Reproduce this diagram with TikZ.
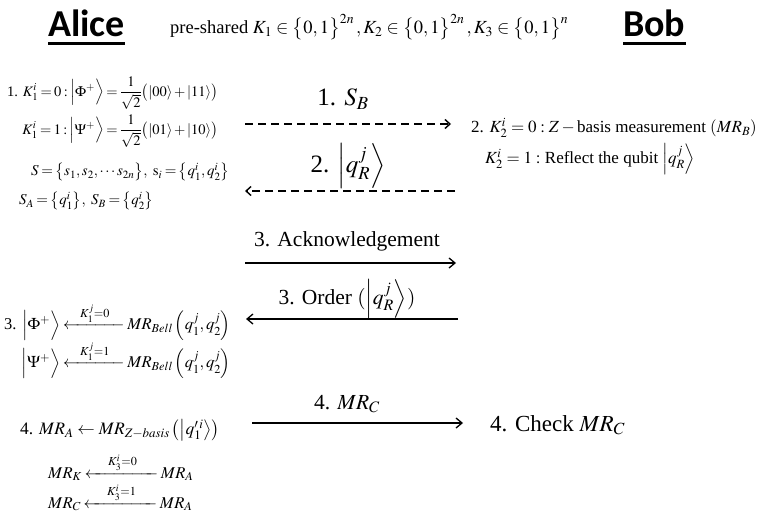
\documentclass[tikz,border=0pt]{standalone}
\usepackage{amsmath,amssymb}
\usepackage{mathptmx}
\usepackage[no-math]{fontspec}
\setmainfont{Liberation Serif}
\newfontfamily\headfont{Carlito}
\usetikzlibrary{arrows.meta}
\newcommand{\ket}[1]{\left|#1\right\rangle}
\newcommand{\bket}[1]{\Bigl|#1\Bigr\rangle}
\newcommand{\keyarrow}[2]{\xleftarrow{\makebox[#1]{$\scriptstyle #2$}}}
\newcommand{\tightmath}{\thickmuskip=3mu\relax\medmuskip=2mu\relax}

\begin{document}
\begin{tikzpicture}[
  x=1pt, y=-1pt,
  party/.style={font=\headfont\bfseries\fontsize{38}{40}\selectfont, inner sep=0pt},
  uline/.style={line width=2.6pt},
  keys/.style={font=\fontsize{18.5}{21}\selectfont, inner sep=0pt, anchor=west},
  eqn/.style={font=\fontsize{15}{18}\selectfont\tightmath, inner sep=0pt},
  eqnb/.style={font=\fontsize{16.5}{19}\selectfont\tightmath, inner sep=0pt},
  bobeq/.style={font=\fontsize{17}{20}\selectfont, inner sep=0pt, anchor=west},
  msgbig/.style={font=\fontsize{25}{28}\selectfont, inner sep=0pt},
  msg/.style={font=\fontsize{21.5}{24}\selectfont, inner sep=0pt},
  qmsg/.style={-{Straight Barb[length=5pt,width=9pt]}, line width=1.4pt, dash pattern=on 8pt off 5pt},
  cmsg/.style={-{Straight Barb[length=6pt,width=10pt]}, line width=1.3pt},
]
  \useasboundingbox (0,0) rectangle (762,516);

  % Parties
  \node[party, anchor=base west] (alice) at (48,37) {Alice};
  \node[party, anchor=base west] (bob)   at (623,37) {Bob};
  \draw[uline] ([yshift=-6.5pt]alice.base west) -- ([yshift=-6.5pt]alice.base east);
  \draw[uline] ([yshift=-6.5pt]bob.base west) -- ([yshift=-6.5pt]bob.base east);
  \node[keys] (keys) at (170,27)
    {pre-shared $K_1\in\bigl\{0,1\bigr\}^{2n}\,,K_2\in\bigl\{0,1\bigr\}^{2n}\,,K_3\in\bigl\{0,1\bigr\}^{n}$};

  % Step 1 (Alice)
  \node[eqn, anchor=east, font=\fontsize{14.5}{17}\selectfont\tightmath] (s1a) at (218,93)
    {1. $K_1^i=0:\bket{\Phi^+}=\dfrac{1}{\sqrt{2}}\bigl(|00\rangle+|11\rangle\bigr)$};
  \node[eqn, anchor=east, font=\fontsize{14.5}{17}\selectfont\tightmath] (s1b) at (218,131)
    {$K_1^i=1:\bket{\Psi^+}=\dfrac{1}{\sqrt{2}}\bigl(|01\rangle+|10\rangle\bigr)$};
  \node[eqn, anchor=west] (s1c) at (31,172) {$S=\bigl\{s_1,s_2,\cdots s_{2n}\bigr\},\ \mathrm{s}_i=\bigl\{q_1^i,q_2^i\bigr\}$};
  \node[eqn, anchor=west] (s1d) at (19,201) {$S_A=\bigl\{q_1^i\bigr\},\ S_B=\bigl\{q_2^i\bigr\}$};

  % Step 2 (Bob)
  \node[bobeq] (s2a) at (471,128) {2. $K_2^i=0:Z-{}$basis measurement $(MR_B)$};
  \node[bobeq] (s2b) at (485,159) {$K_2^i=1:$ Reflect the qubit $\ket{q_R^j}$};

  % Step 3 (Alice)
  \node[eqnb, anchor=east] (s3a) at (231,322) {3. $\bket{\Phi^+}\keyarrow{52pt}{K_1^j{=}0}MR_{Bell}\left(q_1^j,q_2^j\right)$};
  \node[eqnb, anchor=east] (s3b) at (231,360) {$\bket{\Psi^+}\keyarrow{52pt}{K_1^j{=}1}MR_{Bell}\left(q_1^j,q_2^j\right)$};

  % Step 4 (Alice / Bob)
  \node[font=\fontsize{17.5}{20}\selectfont, inner sep=0pt, anchor=west] (s4a) at (20,430)
    {4. $MR_A\leftarrow MR_{Z-basis}\left(\ket{q_1'^{\,i}}\right)$};
  \node[eqnb, anchor=west] (s4b) at (48,467) {$MR_K\keyarrow{64pt}{K_3^i{=}0}MR_A$};
  \node[eqnb, anchor=west] (s4c) at (48,497) {$MR_C\keyarrow{64pt}{K_3^i{=}1}MR_A$};
  \node[font=\fontsize{23}{26}\selectfont, inner sep=0pt, anchor=west] (check) at (490,425) {4. Check $MR_C$};

  % Messages
  \coordinate (m1s) at (245,124); \coordinate (m1e) at (451,124);
  \coordinate (m2s) at (455,191); \coordinate (m2e) at (245,191);
  \coordinate (m3s) at (245,263); \coordinate (m3e) at (456,263);
  \coordinate (m4s) at (458,319); \coordinate (m4e) at (246,319);
  \coordinate (m5s) at (252,423); \coordinate (m5e) at (463,423);
  \foreach \a/\b/\st in {m1s/m1e/qmsg, m2s/m2e/qmsg, m3s/m3e/cmsg, m4s/m4e/cmsg, m5s/m5e/cmsg}
    \draw[\st] (\a) -- (\b);

  \node[msgbig] (l1) at (343,99)  {1. $S_B$};
  \node[msgbig] (l2) at (348,166) {2. $\ket{q_R^j}$};
  \node[msg]    (l3) at (347,241) {3. Acknowledgement};
  \node[msg]    (l4) at (347,299) {3. Order $(\ket{q_R^j})$};
  \node[msg]    (l5) at (347,404) {4. $MR_C$};
\end{tikzpicture}
\end{document}
